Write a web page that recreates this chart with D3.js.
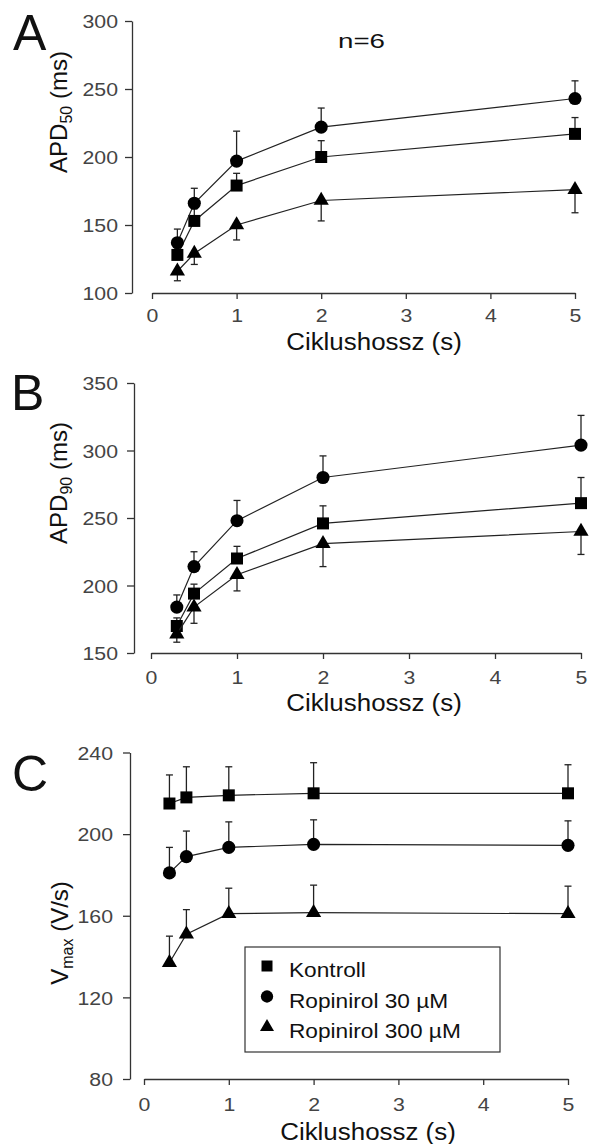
<!DOCTYPE html>
<html>
<head>
<meta charset="utf-8">
<script src="https://cdn.jsdelivr.net/npm/d3@7"></script>
<style>
  body { margin: 0; background: #fff; }
  text { font-family: "Liberation Sans", Arial, sans-serif; }
</style>
</head>
<body>
<div id="chart"></div>
<script>
// ---- data ----
const cycleLength = [0.3, 0.5, 1, 2, 5];
const xTicks = [0, 1, 2, 3, 4, 5];
const seriesNames = ["Kontroll", "Ropinirol 30 µM", "Ropinirol 300 µM"];

// A: APD50 (ms)
const apd50Ticks = [100, 150, 200, 250, 300];
const apd50Kontroll = [128, 153, 179, 200, 217];
const apd50KontrollErr = [5, 9, 9, 12, 12];
const apd50Ropi30 = [137, 166, 197, 222, 243];
const apd50Ropi30Err = [10, 11, 22, 14, 13];
const apd50Ropi300 = [116, 129, 150, 168, 176];
const apd50Ropi300Err = [7, 8, 11, 15, 17];

// B: APD90 (ms)
const apd90Ticks = [150, 200, 250, 300, 350];
const apd90Kontroll = [170, 194, 220, 246, 261];
const apd90KontrollErr = [6, 7, 9, 13, 19];
const apd90Ropi30 = [184, 214, 248, 280, 304];
const apd90Ropi30Err = [9, 11, 15, 16, 22];
const apd90Ropi300 = [164, 184, 208, 231, 240];
const apd90Ropi300Err = [6, 12, 12, 17, 17];

// C: Vmax (V/s)
const vmaxTicks = [80, 120, 160, 200, 240];
const vmaxKontroll = [215, 218, 219, 220, 220];
const vmaxKontrollErr = [14, 15, 14, 15, 14];
const vmaxRopi30 = [181, 189, 193.5, 195, 194.5];
const vmaxRopi30Err = [12.5, 12.5, 12.5, 12, 12];
const vmaxRopi300 = [137, 151, 161, 161.5, 161];
const vmaxRopi300Err = [13, 12, 12.5, 13.5, 13.5];

// ---- layout ----
const svgWidth = 589;
const svgHeight = 1144;
const lineColor = "#222";
const axisColor = "#333";

const svg = d3.select("#chart")
  .append("svg")
  .attr("width", svgWidth)
  .attr("height", svgHeight);

// markers: square, circle, flat triangle (centred on centroid)
const squarePath = d3.symbol(d3.symbolSquare, 144)();
const circlePath = d3.symbol(d3.symbolCircle, 135)();
const trianglePath = "M0,-8.7L7.6,4.3L-7.6,4.3Z";
const legSquare = d3.symbol(d3.symbolSquare, 121)();
const legCircle = d3.symbol(d3.symbolCircle, 120)();
const legTriangle = "M0,-8L7,4L-7,4Z";

const panels = [
  {
    letter: "A", letterX: 13, letterY: 50,
    yTicks: apd50Ticks, yRange: [293, 21], yAxisX: 132, yLabelX: -14,
    xRange: [152, 575], xAxisY: 293, xLabelY: 29,
    xTitleX: 374, xTitleY: 350,
    yTitleX: 67, yTitleY: 112, yMain: "APD", ySub: "50", yRest: " (ms)",
    series: [
      {values: apd50Kontroll, err: apd50KontrollErr, dir: 1},
      {values: apd50Ropi30, err: apd50Ropi30Err, dir: 1},
      {values: apd50Ropi300, err: apd50Ropi300Err, dir: -1}
    ]
  },
  {
    letter: "B", letterX: 11, letterY: 410,
    yTicks: apd90Ticks, yRange: [653, 383], yAxisX: 134, yLabelX: -16,
    xRange: [151, 581], xAxisY: 653, xLabelY: 31,
    xTitleX: 374, xTitleY: 711,
    yTitleX: 67, yTitleY: 483, yMain: "APD", ySub: "90", yRest: " (ms)",
    series: [
      {values: apd90Kontroll, err: apd90KontrollErr, dir: 1},
      {values: apd90Ropi30, err: apd90Ropi30Err, dir: 1},
      {values: apd90Ropi300, err: apd90Ropi300Err, dir: -1}
    ]
  },
  {
    letter: "C", letterX: 12, letterY: 791,
    yTicks: vmaxTicks, yRange: [1079, 752.5], yAxisX: 130, yLabelX: -17,
    xRange: [144, 568], xAxisY: 1079, xLabelY: 32,
    xTitleX: 368, xTitleY: 1140,
    yTitleX: 68, yTitleY: 933, yMain: "V", ySub: "max", yRest: " (V/s)",
    series: [
      {values: vmaxKontroll, err: vmaxKontrollErr, dir: 1},
      {values: vmaxRopi30, err: vmaxRopi30Err, dir: 1},
      {values: vmaxRopi300, err: vmaxRopi300Err, dir: 1}
    ]
  }
];

const shapes = [squarePath, circlePath, trianglePath];

panels.forEach(p => {
  const x = d3.scaleLinear().domain([0, 5]).range(p.xRange);
  const y = d3.scaleLinear().domain(d3.extent(p.yTicks)).range(p.yRange);
  const g = svg.append("g");

  // y axis
  const yAxis = g.append("g")
    .attr("transform", `translate(${p.yAxisX},0)`)
    .attr("color", axisColor)
    .call(d3.axisLeft(y).tickValues(p.yTicks).tickFormat(d3.format("d")).tickSize(7).tickSizeOuter(0));
  yAxis.select(".domain").attr("stroke-width", 1.3);
  yAxis.selectAll(".tick line").attr("stroke-width", 1.3);
  yAxis.selectAll("text")
    .attr("font-size", 19)
    .attr("fill", "#444")
    .attr("x", p.yLabelX / 1.12)
    .attr("dy", "0.36em")
    .attr("transform", "scale(1.12,1)");

  // x axis
  const xAxis = g.append("g")
    .attr("transform", `translate(0,${p.xAxisY})`)
    .attr("color", axisColor)
    .call(d3.axisBottom(x).tickValues(xTicks).tickFormat(d3.format("d")).tickSize(6).tickSizeOuter(0));
  xAxis.select(".domain").attr("stroke-width", 1.3);
  xAxis.selectAll(".tick line").attr("stroke-width", 1.3);
  xAxis.selectAll("text")
    .attr("font-size", 19)
    .attr("fill", "#444")
    .attr("y", p.xLabelY)
    .attr("dy", 0)
    .attr("transform", "scale(1.12,1)");

  // axis titles
  g.append("text")
    .attr("transform", `translate(${p.xTitleX},${p.xTitleY}) scale(1.08,1)`)
    .attr("text-anchor", "middle")
    .attr("font-size", 24)
    .attr("fill", "#111")
    .text("Ciklushossz (s)");

  const yt = g.append("text")
    .attr("transform", `translate(${p.yTitleX},${p.yTitleY}) rotate(-90)`)
    .attr("text-anchor", "middle")
    .attr("font-size", 24)
    .attr("fill", "#111");
  yt.append("tspan").text(p.yMain);
  yt.append("tspan").attr("font-size", 16).attr("dy", 5).text(p.ySub);
  yt.append("tspan").attr("dy", -5).text(p.yRest);

  // panel letter
  g.append("text")
    .attr("x", p.letterX)
    .attr("y", p.letterY)
    .attr("font-size", 50)
    .attr("fill", "#111")
    .text(p.letter);

  const line = d3.line()
    .x((d, i) => x(cycleLength[i]))
    .y(d => y(d));

  p.series.forEach((s, si) => {
    g.append("path")
      .datum(s.values)
      .attr("fill", "none")
      .attr("stroke", lineColor)
      .attr("stroke-width", 1.2)
      .attr("d", line);

    // error bars (one side only)
    const eb = g.append("g").attr("stroke", lineColor).attr("stroke-width", 1.3);
    s.values.forEach((v, i) => {
      const cx = x(cycleLength[i]);
      const yEnd = y(v + s.dir * s.err[i]);
      eb.append("line")
        .attr("x1", cx).attr("x2", cx)
        .attr("y1", y(v)).attr("y2", yEnd);
      eb.append("line")
        .attr("x1", cx - 3.5).attr("x2", cx + 3.5)
        .attr("y1", yEnd).attr("y2", yEnd);
    });

    g.selectAll(null)
      .data(s.values)
      .enter()
      .append("path")
      .attr("d", shapes[si])
      .attr("fill", "#000")
      .attr("transform", (d, i) => `translate(${x(cycleLength[i])},${y(d)})`);
  });
});

// n=6 label in panel A
svg.append("text")
  .attr("transform", "translate(361.5,48.3) scale(1.32,1)")
  .attr("text-anchor", "middle")
  .attr("font-size", 21)
  .attr("fill", "#111")
  .text("n=6");

// legend in panel C
const legend = svg.append("g");
legend.append("rect")
  .attr("x", 245).attr("y", 947)
  .attr("width", 255).attr("height", 105)
  .attr("fill", "#fff")
  .attr("stroke", axisColor)
  .attr("stroke-width", 1.2);

const legShapes = [legSquare, legCircle, legTriangle];
seriesNames.forEach((name, i) => {
  const rowY = 966 + i * 30.5;
  legend.append("path")
    .attr("d", legShapes[i])
    .attr("fill", "#000")
    .attr("transform", `translate(267,${rowY})`);
  legend.append("text")
    .attr("transform", `translate(289,${rowY + 11}) scale(1.08,1)`)
    .attr("font-size", 21)
    .attr("fill", "#111")
    .text(name);
});
</script>
</body>
</html>
